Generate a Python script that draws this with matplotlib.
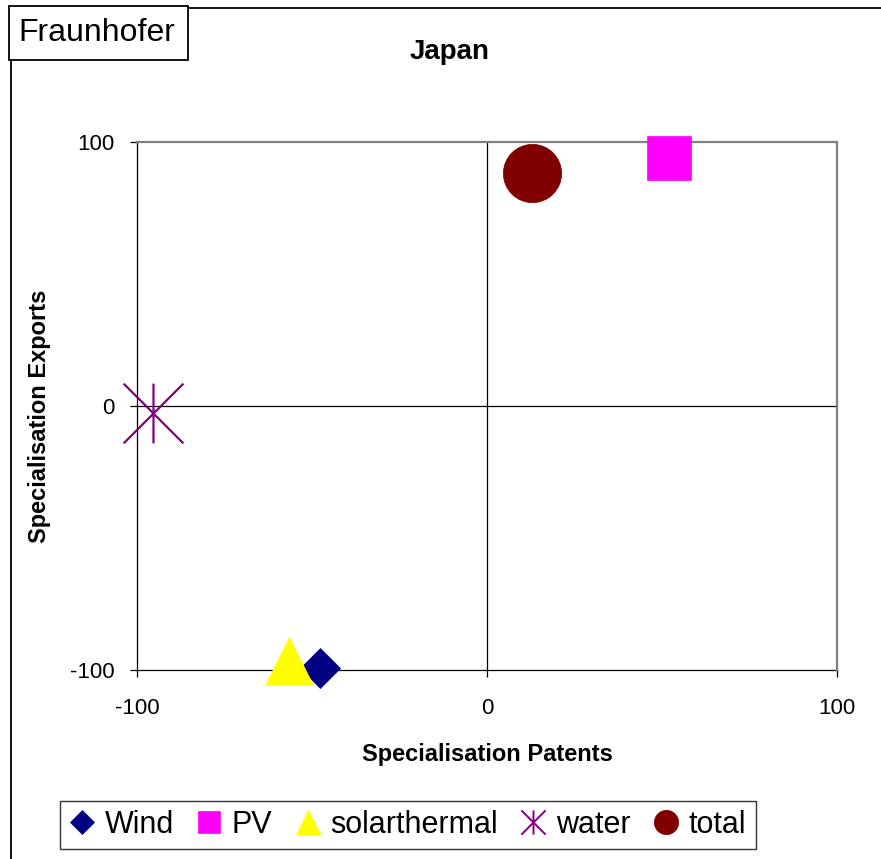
import matplotlib
matplotlib.use("Agg")
import matplotlib.pyplot as plt
from matplotlib.lines import Line2D
from matplotlib.patches import Rectangle
from matplotlib.path import Path

plt.rcParams['font.family'] = ['Liberation Sans', 'DejaVu Sans']

# ---- data ----
series = ["Wind", "PV", "solarthermal", "water", "total"]
patents = [-47.7, 52.0, -56.7, -95.3, 12.8]
exports = [-99.2, 94.1, -96.6, -2.8, 88.1]
colors = ["#000080", "#FF00FF", "#FFFF00", "#800080", "#800000"]
ticks = [-100, 0, 100]
title = "Japan"
xlabel = "Specialisation Patents"
ylabel = "Specialisation Exports"

W, H = 881, 859
fig = plt.figure(figsize=(W / 100, H / 100), dpi=100)
ax = fig.add_axes([137 / W, 1 - 670 / H, 700 / W, 528 / H])

star = Path([(0, -1), (0, 1), (-1, -1), (1, 1), (-1, 1), (1, -1)],
            [Path.MOVETO, Path.LINETO, Path.MOVETO, Path.LINETO, Path.MOVETO, Path.LINETO])
markers = ["D", "s", "^", star, "o"]
sizes = [20.5, 32, 34, 43, 42]
leg_sizes = [12.7, 16.5, 18, 17.5, 17.5]

ax.axhline(0, color="black", lw=0.9, zorder=1)
ax.axvline(0, color="black", lw=0.9, zorder=1)

handles = []
for i, name in enumerate(series):
    filled = markers[i] is not star
    ax.plot([patents[i]], [exports[i]], linestyle="none", marker=markers[i],
            markersize=sizes[i], markerfacecolor=colors[i] if filled else "none",
            markeredgecolor=colors[i], markeredgewidth=1.6 if not filled else 0.5,
            zorder=3, clip_on=False)
    handles.append(Line2D([], [], linestyle="none", marker=markers[i],
                          markersize=leg_sizes[i],
                          markerfacecolor=colors[i] if filled else "none",
                          markeredgecolor=colors[i],
                          markeredgewidth=1.4 if not filled else 0.5, label=name))

ax.set_xlim(-100, 100)
ax.set_ylim(-100, 100)
ax.set_xticks(ticks)
ax.set_yticks(ticks)
ax.set_xticklabels([str(t) for t in ticks])
ax.set_yticklabels([str(t) for t in ticks])
ax.tick_params(axis="both", direction="out", length=5, width=0.9, labelsize=16, color="black")
ax.tick_params(axis="x", pad=15)
ax.tick_params(axis="y", pad=11)
for s in ["top", "right"]:
    ax.spines[s].set_color("#808080")
    ax.spines[s].set_linewidth(1.6)
for s in ["left", "bottom"]:
    ax.spines[s].set_color("black")
    ax.spines[s].set_linewidth(0.9)
    ax.spines[s].set_zorder(2)

fig.text(450 / W, 1 - 52 / H, title, ha="center", va="center", fontsize=20, fontweight="bold")
fig.text(487 / W, 1 - 755 / H, xlabel, ha="center", va="center", fontsize=17, fontweight="bold")
fig.text(40 / W, 1 - 416 / H, ylabel, ha="center", va="center", fontsize=17,
         fontweight="bold", rotation=90)

# Fraunhofer box
fig.add_artist(Rectangle((8.5 / W, 1 - 60 / H), 179.5 / W, 54 / H, transform=fig.transFigure,
                         facecolor="white", edgecolor="black", linewidth=1.3, zorder=5))
fig.text(97 / W, 1 - 33 / H, "Fraunhofer", ha="center", va="center", fontsize=23, zorder=6)

# figure border lines
fig.add_artist(Line2D([188 / W, 1.0], [1 - 7.5 / H, 1 - 7.5 / H], color="black", lw=1.3,
                      transform=fig.transFigure))
fig.add_artist(Line2D([10.5 / W, 10.5 / W], [1 - 60 / H, 0], color="black", lw=1.3,
                      transform=fig.transFigure))

leg = fig.legend(handles=handles, loc="center", bbox_to_anchor=(408 / W, 1 - 825 / H),
                 ncol=5, fontsize=22, frameon=True, fancybox=False, handlelength=0.8,
                 handletextpad=0.35, columnspacing=0.75, borderpad=0.3, borderaxespad=0)
leg.get_frame().set_edgecolor("black")
leg.get_frame().set_linewidth(1.0)

fig.savefig("out.png", dpi=100)
